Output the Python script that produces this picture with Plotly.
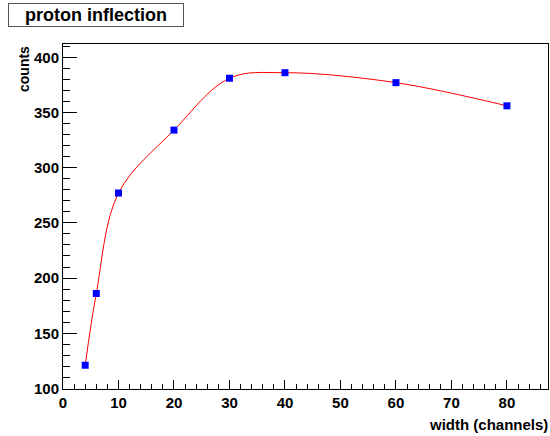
import plotly.graph_objects as go

width_channels = [4, 6, 10, 20, 30, 40, 60, 80]
counts = [121, 186, 277, 334, 381, 386, 377, 356]

FONT = "Liberation Sans"

fig = go.Figure()
fig.add_trace(go.Scatter(
    x=width_channels, y=counts, mode="lines",
    line=dict(color="red", width=1, shape="spline", smoothing=1.0),
    hoverinfo="skip", showlegend=False))
fig.add_trace(go.Scatter(
    x=width_channels, y=counts, mode="markers",
    marker=dict(symbol="square", color="#0000ff", size=7, line=dict(width=0)),
    showlegend=False))

W, H = 550, 436
L, R, T, B = 63, 2, 44, 47
pw, ph = W - L - R, H - T - B

def px(x):
    return (x - L) / pw

def py(y):
    return (H - B - y) / ph

axis_common = dict(
    showgrid=False, zeroline=False, showline=True, linecolor="black", linewidth=1,
    mirror=True, ticks="inside", tickcolor="black", automargin=False,
    tickfont=dict(family=FONT, size=15, color="black", weight="bold"),
)

fig.update_xaxes(range=[0, 87.4], tickvals=list(range(0, 90, 10)), ticklen=9,
                 minor=dict(ticks="inside", dtick=2, ticklen=5, tickcolor="black"),
                 **axis_common)
fig.update_yaxes(range=[99.5, 412], tickvals=list(range(100, 450, 50)), ticklen=14,
                 minor=dict(ticks="inside", dtick=10, ticklen=7, tickcolor="black"),
                 **axis_common)

fig.add_annotation(xref="paper", yref="paper", x=px(8), y=py(3), xanchor="left", yanchor="top",
                   text="<b>proton inflection</b>", showarrow=False,
                   font=dict(family=FONT, size=18, color="black"),
                   bordercolor="#555555", borderwidth=1, bgcolor="white",
                   width=172, height=20, align="center")
fig.add_annotation(xref="paper", yref="paper", x=px(24), y=py(44), xanchor="center", yanchor="top",
                   text="<b>counts</b>", textangle=-90, showarrow=False,
                   font=dict(family=FONT, size=14, color="black"))
fig.add_annotation(xref="paper", yref="paper", x=px(550), y=py(424), xanchor="right", yanchor="middle",
                   text="<b>width (channels)</b>", showarrow=False,
                   font=dict(family=FONT, size=15, color="black"))

fig.update_layout(width=W, height=H, margin=dict(l=L, r=R, t=T, b=B, autoexpand=False),
                  paper_bgcolor="white", plot_bgcolor="white", showlegend=False)

fig.write_html("out.html", config={"displayModeBar": False},
               post_script="document.body.style.margin='0px';document.body.style.padding='0px';")
